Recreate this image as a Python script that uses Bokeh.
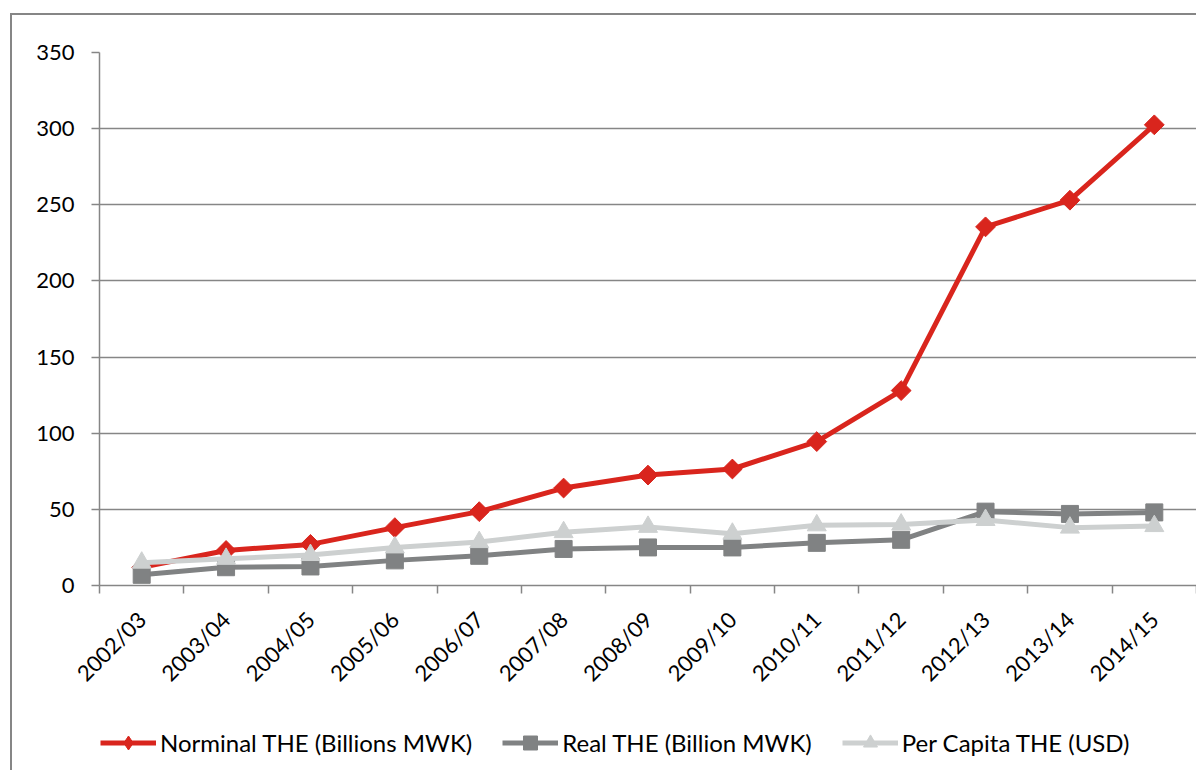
import math
from bokeh.plotting import figure
from bokeh.layouts import column
from bokeh.models import (Range1d, FixedTicker, Legend, LegendItem)
from bokeh.embed import file_html
from bokeh.resources import INLINE

categories = ["2002/03", "2003/04", "2004/05", "2005/06", "2006/07", "2007/08",
              "2008/09", "2009/10", "2010/11", "2011/12", "2012/13", "2013/14", "2014/15"]
nominal = [12, 23, 27, 38, 48.5, 64, 72.5, 76.5, 94.5, 128, 235.5, 253, 302.5]
real = [7, 12, 12.5, 16.5, 19.5, 24, 25, 25, 28, 30, 48.5, 47, 48]
per_capita = [15, 17.5, 20, 25, 28.5, 35, 38.5, 34, 39.5, 40, 43, 38, 39]
y_ticks = [0, 50, 100, 150, 200, 250, 300, 350]
series_names = ["Norminal THE (Billions MWK)", "Real THE (Billion MWK)", "Per Capita THE (USD)"]

xs = [i + 0.5 for i in range(len(categories))]
boundaries = list(range(len(categories) + 1))

GRID = "#868686"
FONT = "Lato"
RED = "#D9251D"
DARK = "#808283"
LIGHT = "#CDD0D0"

p = figure(width=1196, height=700, output_backend="svg", toolbar_location=None,
           x_range=Range1d(0, len(categories)), y_range=Range1d(0, 350),
           min_border_left=99, min_border_top=52, min_border_right=0, min_border_bottom=115)
p.outline_line_color = None
p.background_fill_color = "white"
p.border_fill_alpha = 0

p.xgrid.visible = False
p.ygrid.grid_line_color = GRID
p.ygrid.grid_line_width = 1.5
p.ygrid.ticker = FixedTicker(ticks=y_ticks)

ya = p.yaxis[0]
ya.ticker = FixedTicker(ticks=y_ticks)
ya.axis_line_color = GRID
ya.axis_line_width = 1.5
ya.major_tick_line_color = GRID
ya.major_tick_line_width = 1.5
ya.major_tick_out = 8
ya.major_tick_in = 0
ya.minor_tick_line_color = None
ya.major_label_standoff = 17
ya.major_label_text_font = FONT
ya.major_label_text_font_size = "22px"
ya.major_label_text_color = "black"

xa = p.xaxis[0]
xa.ticker = FixedTicker(ticks=xs, minor_ticks=boundaries)
xa.major_label_overrides = {x: c for x, c in zip(xs, categories)}
xa.axis_line_color = GRID
xa.axis_line_width = 1.5
xa.major_tick_line_color = None
xa.minor_tick_line_color = GRID
xa.minor_tick_line_width = 1.5
xa.minor_tick_out = 8
xa.minor_tick_in = 0
xa.major_label_orientation = math.pi / 4
xa.major_label_standoff = 22
xa.major_label_text_font = FONT
xa.major_label_text_font_size = "22px"
xa.major_label_text_color = "black"

p.line(xs, nominal, line_color=RED, line_width=5)
p.scatter(xs, nominal, marker="square", angle=math.pi / 4, size=14,
          fill_color=RED, line_color=RED)
p.line(xs, real, line_color=DARK, line_width=5)
p.scatter(xs, real, marker="square", size=17, fill_color=DARK, line_color=DARK)
p.line(xs, per_capita, line_color=LIGHT, line_width=5)
p.scatter(xs, per_capita, marker="triangle", size=19, fill_color=LIGHT, line_color=LIGHT)

# legend strip: same series, ranges set so the marks themselves stay out of view
q = figure(width=1196, height=70, output_backend="svg", toolbar_location=None,
           x_range=Range1d(1000, 1001), y_range=Range1d(1000, 1001),
           min_border=0, x_axis_type=None, y_axis_type=None)
q.outline_line_color = None
q.background_fill_alpha = 0
q.border_fill_alpha = 0
q.xgrid.visible = False
q.ygrid.visible = False

k1 = q.line(xs, nominal, line_color=RED, line_width=5)
s1 = q.scatter(xs, nominal, marker="diamond", size=18, fill_color=RED, line_color=RED)
k2 = q.line(xs, real, line_color=DARK, line_width=5)
s2 = q.scatter(xs, real, marker="square", size=15, fill_color=DARK, line_color=DARK)
k3 = q.line(xs, per_capita, line_color=LIGHT, line_width=5)
s3 = q.scatter(xs, per_capita, marker="triangle", size=16, fill_color=LIGHT, line_color=LIGHT)

legend = Legend(items=[LegendItem(label=series_names[0], renderers=[k1, s1]),
                       LegendItem(label=series_names[1], renderers=[k2, s2]),
                       LegendItem(label=series_names[2], renderers=[k3, s3])],
                orientation="horizontal", location=(1, 10),
                label_text_font=FONT, label_text_font_size="24px",
                label_text_color="black", glyph_width=56, glyph_height=35,
                label_standoff=4, spacing=30, padding=0, margin=0,
                border_line_color=None, background_fill_alpha=0)
q.add_layout(legend, "center")

layout = column(p, q, spacing=0,
                styles={"box-shadow": "inset 10px 13px 0 0 white, inset 12px 15px 0 0 " + GRID,
                        "background-color": "white"})

open("out.html", "w").write(file_html(layout, INLINE))
